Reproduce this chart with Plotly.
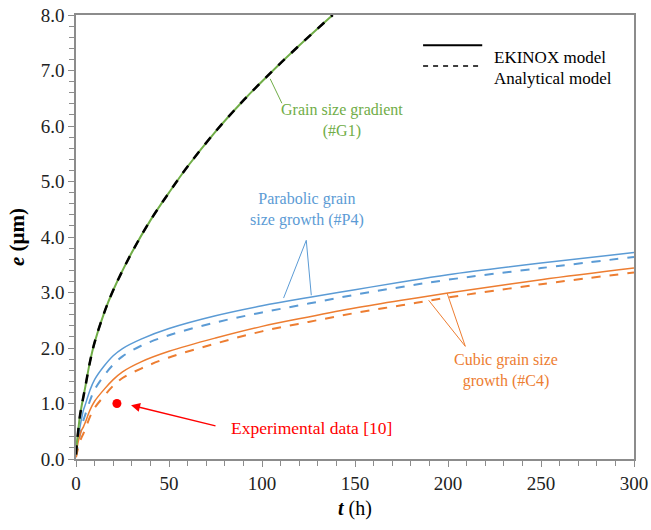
import plotly.graph_objects as go

# grain size gradient (#G1) - EKINOX and analytical curves overlap
t_g1 = [0, 0.5, 1, 2, 3, 5, 7.5, 10, 15, 20, 30, 40, 50, 60, 75, 90, 105, 120, 138]
e_g1_ekinox = [0.08, 0.3, 0.45, 0.75, 0.95, 1.3, 1.75, 2.1, 2.62, 3.04, 3.72, 4.3, 4.8, 5.27, 5.9, 6.46, 6.97, 7.45, 8.0]
e_g1_analytic = [0.08, 0.3, 0.45, 0.75, 0.95, 1.3, 1.75, 2.1, 2.62, 3.04, 3.72, 4.3, 4.8, 5.27, 5.9, 6.46, 6.97, 7.45, 8.0]

t_grow = [0, 1, 2, 3, 4, 5, 7.5, 10, 15, 20, 25, 35, 50, 75, 100, 125, 150, 175, 200, 250, 300]
# parabolic grain size growth (#P4)
e_p4_ekinox = [0.1, 0.38, 0.55, 0.73, 0.88, 0.98, 1.24, 1.43, 1.67, 1.86, 1.99, 2.16, 2.35, 2.58, 2.76, 2.91, 3.05, 3.19, 3.32, 3.53, 3.72]
e_p4_analytic = [0.05, 0.25, 0.42, 0.57, 0.7, 0.8, 1.05, 1.25, 1.5, 1.7, 1.85, 2.04, 2.23, 2.46, 2.64, 2.8, 2.96, 3.1, 3.23, 3.44, 3.64]
# cubic grain size growth (#C4)
e_c4_ekinox = [0.05, 0.28, 0.42, 0.52, 0.58, 0.66, 0.88, 1.04, 1.25, 1.43, 1.57, 1.75, 1.94, 2.18, 2.39, 2.56, 2.72, 2.86, 2.99, 3.23, 3.44]
e_c4_analytic = [0.03, 0.18, 0.3, 0.39, 0.46, 0.54, 0.76, 0.92, 1.13, 1.32, 1.46, 1.63, 1.83, 2.08, 2.3, 2.47, 2.63, 2.77, 2.91, 3.15, 3.36]

# experimental point [10]
t_exp = [22]
e_exp = [1.0]

GREEN = "#70AD47"
BLUE = "#5B9BD5"
ORANGE = "#ED7D31"
RED = "#FF0000"
FONT = "Liberation Serif, Times New Roman, serif"

fig = go.Figure()

fig.add_trace(go.Scatter(x=t_grow, y=e_p4_ekinox, mode="lines", line_shape="spline",
                         line=dict(color=BLUE, width=1.5)))
fig.add_trace(go.Scatter(x=t_grow, y=e_p4_analytic, mode="lines", line_shape="spline",
                         line=dict(color=BLUE, width=2, dash="dash")))
fig.add_trace(go.Scatter(x=t_grow, y=e_c4_ekinox, mode="lines", line_shape="spline",
                         line=dict(color=ORANGE, width=1.5)))
fig.add_trace(go.Scatter(x=t_grow, y=e_c4_analytic, mode="lines", line_shape="spline",
                         line=dict(color=ORANGE, width=2, dash="dash")))
fig.add_trace(go.Scatter(x=t_g1, y=e_g1_ekinox, mode="lines", line_shape="spline",
                         line=dict(color=GREEN, width=2)))
fig.add_trace(go.Scatter(x=t_g1, y=e_g1_analytic, mode="lines", line_shape="spline",
                         line=dict(color="black", width=2.5, dash="dash")))
fig.add_trace(go.Scatter(x=t_exp, y=e_exp, mode="markers",
                         marker=dict(color=RED, size=9)))

# hand-drawn legend (paper coords)
fig.add_shape(type="line", xref="paper", yref="paper", x0=0.622, x1=0.728, y0=0.932, y1=0.932,
              line=dict(color="black", width=2))
fig.add_shape(type="line", xref="paper", yref="paper", x0=0.622, x1=0.728, y0=0.885, y1=0.885,
              line=dict(color="black", width=1.5, dash="5px,5px"))
fig.add_annotation(xref="paper", yref="paper", x=0.745, y=0.930, text="EKINOX model",
                   showarrow=False, xanchor="left", font=dict(family=FONT, size=17, color="black"))
fig.add_annotation(xref="paper", yref="paper", x=0.745, y=0.884, text="Analytical model",
                   showarrow=False, xanchor="left", font=dict(family=FONT, size=17, color="black"))

# leader lines for the labels
leaders = [
    (104.4, 6.85, 110.7, 6.41, GREEN),
    (123.8, 3.94, 111.6, 2.90, BLUE),
    (123.8, 3.94, 126.5, 2.95, BLUE),
    (209.3, 2.03, 189.6, 2.86, ORANGE),
    (209.3, 2.03, 199.5, 2.99, ORANGE),
]
for x0, y0, x1, y1, c in leaders:
    fig.add_shape(type="line", x0=x0, y0=y0, x1=x1, y1=y1,
                  line=dict(color=c, width=1))

fig.add_annotation(x=143, y=6.1, text="Grain size gradient<br>(#G1)", showarrow=False,
                   font=dict(family=FONT, size=16, color=GREEN), align="center")
fig.add_annotation(x=124, y=4.5, text="Parabolic grain<br>size growth (#P4)", showarrow=False,
                   font=dict(family=FONT, size=16, color=BLUE), align="center")
fig.add_annotation(x=231, y=1.6, text="Cubic grain size<br>growth (#C4)", showarrow=False,
                   font=dict(family=FONT, size=16, color=ORANGE), align="center")
fig.add_annotation(x=29.6, y=0.97, ax=75.8, ay=0.59, axref="x", ayref="y",
                   text="", showarrow=True, arrowhead=2, arrowsize=1.2,
                   arrowwidth=1.5, arrowcolor=RED)
fig.add_annotation(x=82, y=0.56, text="Experimental data [10]", showarrow=False,
                   xanchor="left", font=dict(family=FONT, size=17.5, color=RED))

axis_common = dict(showline=True, linecolor="#8c8c8c", linewidth=1.5, mirror=True,
                   ticks="outside", ticklen=6, tickcolor="#8c8c8c", showgrid=False,
                   zeroline=False, automargin=False, ticklabeloverflow="allow",
                   tickfont=dict(family=FONT, size=19, color="#222"))

fig.update_layout(
    width=651, height=530,
    margin=dict(l=76, r=17, t=15, b=71),
    showlegend=False,
    plot_bgcolor="white", paper_bgcolor="white",
    font=dict(family=FONT, color="black"),
    xaxis=dict(range=[0, 300], dtick=50,
               minor=dict(dtick=10, ticks="outside", ticklen=5, tickcolor="#8c8c8c"),
               title=dict(text="<i><b>t</b></i> (h)", font=dict(family=FONT, size=20), standoff=8),
               **axis_common),
    yaxis=dict(range=[0, 8], dtick=1, tickformat=".1f",
               minor=dict(dtick=0.2, ticks="outside", ticklen=5, tickcolor="#8c8c8c"),
               title=dict(text="<b><i>e</i> (µm)</b>", font=dict(family=FONT, size=21), standoff=10),
               **axis_common),
)

# drop the default 8px page margin so the figure sits at the window corner
fig.write_html("out.html", config={"displayModeBar": False},
               post_script="document.body.style.margin='0';")
